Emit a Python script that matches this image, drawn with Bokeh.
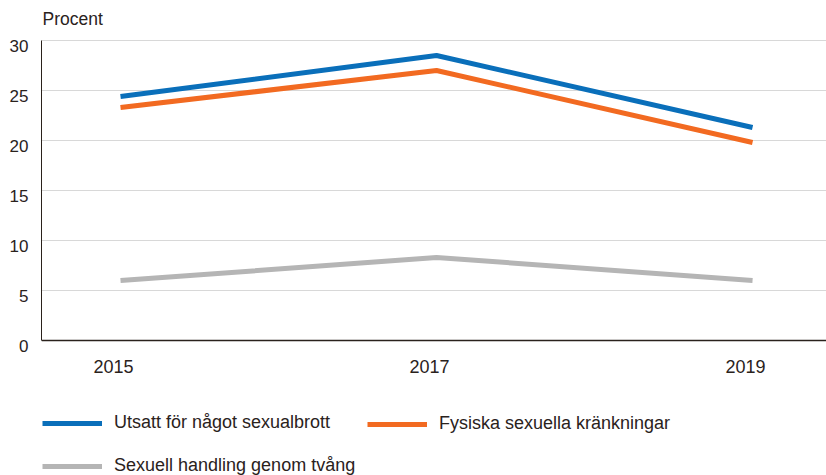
from bokeh.plotting import figure
from bokeh.models import Legend, LegendItem, FixedTicker, Range1d, Label, LinearAxis
from bokeh.embed import file_html
from bokeh.resources import INLINE

years = [2015, 2017, 2019]
utsatt = [24.4, 28.5, 21.3]
fysiska = [23.3, 27.0, 19.8]
tvang = [6.0, 8.3, 6.0]
y_ticks = [0, 5, 10, 15, 20, 25, 30]

FONT = "Liberation Sans"
TXT = "#2a221c"

# small visual offsets of the tick labels (in data units), as in the original layout
X_LABEL_SHIFT = 0.044
Y_LABEL_SHIFT = 0.55

p = figure(width=826, height=475, output_backend="svg", toolbar_location=None,
           x_range=Range1d(2014.5, 2019.468), y_range=Range1d(-13.5, 34.0),
           min_border_left=41, min_border_right=0, min_border_top=0, min_border_bottom=0)
p.outline_line_color = None
p.background_fill_color = "white"
p.border_fill_color = "white"

p.add_layout(Label(x=1, y=457, x_units="screen", y_units="screen", text="Procent",
                   text_font=FONT, text_font_size="17.5px", text_color=TXT,
                   text_baseline="alphabetic"))

p.ygrid.ticker = FixedTicker(ticks=y_ticks)
p.ygrid.grid_line_color = "#d8d8d8"
p.ygrid.grid_line_width = 1
p.xgrid.grid_line_color = None

r1 = p.line(years, utsatt, line_color="#0a6fba", line_width=5)
r2 = p.line(years, fysiska, line_color="#f26a21", line_width=5)
r3 = p.line(years, tvang, line_color="#b5b5b5", line_width=5)

# x axis at y = 0
xt = [y - X_LABEL_SHIFT for y in years]
xax = p.xaxis[0]
xax.ticker = FixedTicker(ticks=xt)
xax.major_label_overrides = {t: str(y) for t, y in zip(xt, years)}
xax.fixed_location = 0
xax.major_tick_line_color = None
xax.minor_tick_line_color = None
xax.major_label_text_font = FONT
xax.major_label_text_font_size = "18px"
xax.major_label_text_color = TXT
xax.major_label_standoff = 13
xax.axis_line_color = TXT
xax.axis_line_width = 1.5

# y axis line (no labels)
yline = p.yaxis[0]
yline.ticker = FixedTicker(ticks=[])
yline.bounds = (0, 30)
yline.major_tick_out = 0
yline.minor_tick_out = 0
yline.major_label_standoff = 0
yline.major_tick_line_color = None
yline.minor_tick_line_color = None
yline.axis_line_color = TXT
yline.axis_line_width = 1

# y tick labels
yt = [v - Y_LABEL_SHIFT for v in y_ticks]
ylab = LinearAxis(ticker=FixedTicker(ticks=yt),
                  major_label_overrides={t: str(v) for t, v in zip(yt, y_ticks)},
                  axis_line_color=None, major_tick_line_color=None,
                  minor_tick_line_color=None, major_tick_out=0, minor_tick_out=0,
                  major_label_text_font=FONT, major_label_text_font_size="17px",
                  major_label_text_color=TXT, major_label_standoff=13)
p.add_layout(ylab, "left")


def make_legend(items, loc):
    lg = Legend(items=items, orientation="vertical", location=loc)
    lg.margin = 0
    lg.padding = 0
    lg.border_line_color = None
    lg.background_fill_alpha = 0
    lg.glyph_width = 60
    lg.glyph_height = 18
    lg.label_standoff = 12
    lg.spacing = 22
    lg.label_text_font = FONT
    lg.label_text_font_size = "18px"
    lg.label_text_color = TXT
    return lg


leg_a = make_legend([
    LegendItem(label="Utsatt för något sexualbrott", renderers=[r1]),
    LegendItem(label="Sexuell handling genom tvång", renderers=[r3]),
], (1, -1))
leg_b = make_legend([
    LegendItem(label="Fysiska sexuella kränkningar", renderers=[r2]),
], (326, 41))
p.add_layout(leg_a, "center")
p.add_layout(leg_b, "center")

open("out.html", "w").write(file_html(p, INLINE))
